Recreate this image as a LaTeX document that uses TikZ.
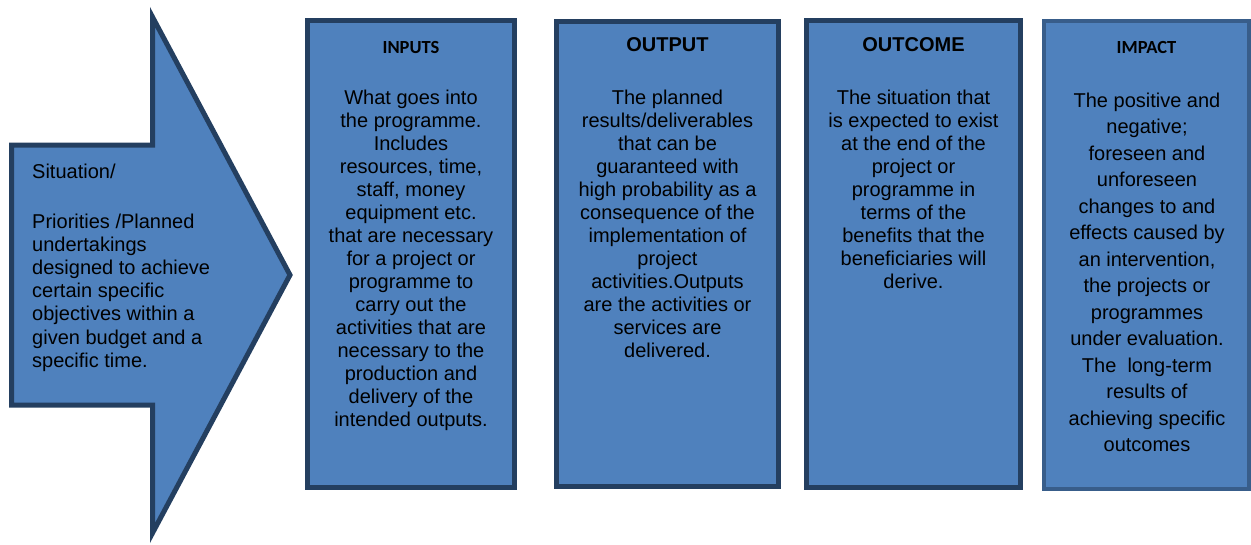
\documentclass[tikz,border=0pt]{standalone}
\usepackage{fontspec}
\setmainfont{Liberation Sans}
\newfontfamily\calibrifont{Carlito}
\definecolor{shapefill}{HTML}{4F81BD}
\definecolor{shapeline}{HTML}{243F60}
\definecolor{softline}{HTML}{385D8A}
\begin{document}
\begin{tikzpicture}[x=1pt,y=-1pt,
  panel/.style={draw=shapeline, fill=shapefill, line width=5pt, line join=miter},
  body/.style={align=center, inner sep=0pt, font=\fontsize{20}{23}\selectfont},
  head/.style={inner sep=0pt, font=\fontsize{20}{23}\selectfont\bfseries},
  calhead/.style={inner sep=0pt, font=\fontsize{18.5}{22}\selectfont\calibrifont\bfseries}]
\useasboundingbox (0,0) rectangle (1251,544);

% block arrow on the left
\draw[panel] (11.5,145) -- (152.5,145) -- (152.5,17) -- (290,275)
  -- (152.5,533) -- (152.5,405) -- (11.5,405) -- cycle;
\node[inner sep=0pt, anchor=west, align=left, font=\fontsize{20}{23.2}\selectfont]
  (situation) at (32,267.5) {Situation/\\[26.8pt]
  Priorities /Planned\\ undertakings\\ designed to achieve\\ certain specific\\
  objectives within a\\ given budget and a\\ specific time.};

% the four result boxes
\node[panel, minimum width=207pt, minimum height=467pt] (inputs) at (411,254) {};
\node[panel, minimum width=222pt, minimum height=465pt] (output) at (667.5,254) {};
\node[panel, minimum width=214pt, minimum height=467pt] (outcome) at (913.5,254) {};
\node[panel, draw=softline, line width=4pt, minimum width=205pt, minimum height=468pt] (impact) at (1146.5,255) {};

% headings
\node[calhead] (inputshead) at (411,47) {INPUTS};
\node[head] (outputhead) at (667.5,45) {OUTPUT};
\node[head] (outcomehead) at (913.5,45) {OUTCOME};
\node[calhead] (impacthead) at (1146.5,47) {IMPACT};

% descriptions
\node[body] (inputstext) at (411,260.5) {What goes into\\ the programme.\\ Includes\\
  resources, time,\\ staff, money\\ equipment etc.\\ that are necessary\\
  for a project or\\ programme to\\ carry out the\\ activities that are\\
  necessary to the\\ production and\\ delivery of the\\ intended outputs.};
\node[body] (outputtext) at (667.5,223.5) {The planned\\ results/deliverables\\
  that can be\\ guaranteed with\\ high probability as a\\ consequence of the\\
  implementation of\\ project\\ activities.Outputs\\ are the activities or\\
  services are\\ delivered.};
\node[body] (outcometext) at (913.5,189.5) {The situation that\\ is expected to exist\\
  at the end of the\\ project or\\ programme in\\ terms of the\\
  benefits that the\\ beneficiaries will\\ derive.};
\node[body, font=\fontsize{20}{26.5}\selectfont] (impacttext) at (1147,272.5) {The positive and\\ negative;\\
  foreseen and\\ unforeseen\\ changes to and\\ effects caused by\\
  an intervention,\\ the projects or\\ programmes\\ under evaluation.\\
  The\ \ long-term\\ results of\\ achieving specific\\ outcomes};
\end{tikzpicture}
\end{document}
